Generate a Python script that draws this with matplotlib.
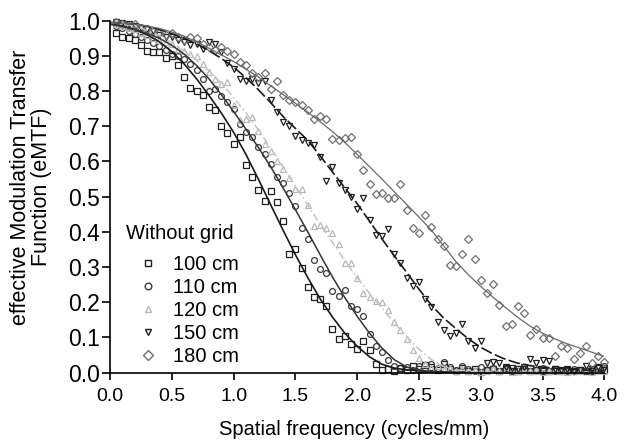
import matplotlib
matplotlib.use("Agg")
import matplotlib.pyplot as plt
from matplotlib.lines import Line2D
from matplotlib.ticker import FormatStrFormatter

plt.rcParams['font.family'] = ['Liberation Sans', 'DejaVu Sans']

# measurement grid (cycles/mm)
freq = [0.05, 0.10, 0.15, 0.20, 0.25, 0.30, 0.35, 0.40, 0.45, 0.50,
        0.55, 0.60, 0.65, 0.70, 0.75, 0.80, 0.85, 0.90, 0.95, 1.00,
        1.05, 1.10, 1.15, 1.20, 1.25, 1.30, 1.35, 1.40, 1.45, 1.50,
        1.55, 1.60, 1.65, 1.70, 1.75, 1.80, 1.85, 1.90, 1.95, 2.00,
        2.05, 2.10, 2.15, 2.20, 2.25, 2.30, 2.35, 2.40, 2.45, 2.50,
        2.55, 2.60, 2.65, 2.70, 2.75, 2.80, 2.85, 2.90, 2.95, 3.00,
        3.05, 3.10, 3.15, 3.20, 3.25, 3.30, 3.35, 3.40, 3.45, 3.50,
        3.55, 3.60, 3.65, 3.70, 3.75, 3.80, 3.85, 3.90, 3.95, 4.00]

# measured eMTF points
mtf_100 = [0.965, 0.955, 0.950, 0.945, 0.930, 0.915, 0.912, 0.910, 0.893, 0.900,
           0.874, 0.840, 0.810, 0.800, 0.790, 0.756, 0.747, 0.700, 0.680, 0.650,
           0.670, 0.590, 0.555, 0.520, 0.488, 0.516, 0.485, 0.430, 0.337, 0.350,
           0.297, 0.243, 0.216, 0.210, 0.190, 0.124, 0.095, 0.105, 0.082, 0.067,
           0.090, 0.065, 0.025, 0.008, 0.010, 0.006, 0.012, 0.008, 0.020, 0.010,
           0.022, 0.015, 0.008, 0.025, 0.010, 0.004, 0.012, 0.006, 0.010, 0.003,
           0.008, 0.010, 0.005, 0.012, 0.006, 0.004, 0.010, 0.006, 0.008, 0.004,
           0.006, 0.010, 0.005, 0.007, 0.004, 0.009, 0.006, 0.005, 0.012, 0.008]
mtf_110 = [0.985, 0.978, 0.970, 0.962, 0.955, 0.945, 0.938, 0.928, 0.918, 0.905,
           0.900, 0.890, 0.877, 0.860, 0.835, 0.800, 0.805, 0.787, 0.770, 0.750,
           0.707, 0.684, 0.670, 0.640, 0.620, 0.594, 0.556, 0.540, 0.510, 0.473,
           0.410, 0.380, 0.320, 0.294, 0.282, 0.233, 0.218, 0.235, 0.190, 0.180,
           0.160, 0.109, 0.077, 0.058, 0.037, 0.020, 0.012, 0.015, 0.008, 0.018,
           0.010, 0.025, 0.012, 0.030, 0.015, 0.008, 0.020, 0.010, 0.006, 0.015,
           0.008, 0.012, 0.005, 0.010, 0.006, 0.004, 0.009, 0.005, 0.007, 0.012,
           0.006, 0.004, 0.008, 0.005, 0.010, 0.006, 0.004, 0.008, 0.015, 0.020]
mtf_120 = [0.990, 0.985, 0.980, 0.975, 0.965, 0.960, 0.950, 0.945, 0.940, 0.933,
           0.920, 0.915, 0.905, 0.899, 0.877, 0.854, 0.835, 0.820, 0.825, 0.760,
           0.717, 0.720, 0.726, 0.688, 0.650, 0.630, 0.600, 0.580, 0.554, 0.523,
           0.523, 0.476, 0.416, 0.420, 0.410, 0.396, 0.365, 0.313, 0.313, 0.270,
           0.227, 0.214, 0.204, 0.200, 0.178, 0.143, 0.120, 0.095, 0.065, 0.042,
           0.025, 0.012, 0.020, 0.008, 0.012, 0.005, 0.010, 0.004, 0.008, 0.003,
           0.006, 0.010, 0.004, 0.007, 0.003, 0.005, 0.008, 0.004, 0.006, 0.003,
           0.005, 0.007, 0.004, 0.003, 0.006, 0.004, 0.008, 0.003, 0.005, 0.004]
mtf_150 = [0.995, 0.993, 0.990, 0.985, 0.980, 0.975, 0.970, 0.960, 0.953, 0.955,
           0.945, 0.940, 0.930, 0.935, 0.920, 0.940, 0.934, 0.910, 0.880, 0.863,
           0.835, 0.830, 0.833, 0.822, 0.830, 0.775, 0.740, 0.712, 0.700, 0.671,
           0.660, 0.652, 0.646, 0.613, 0.545, 0.585, 0.540, 0.518, 0.500, 0.466,
           0.497, 0.435, 0.391, 0.388, 0.407, 0.337, 0.313, 0.270, 0.246, 0.259,
           0.209, 0.186, 0.145, 0.120, 0.105, 0.114, 0.138, 0.089, 0.070, 0.089,
           0.027, 0.030, 0.027, 0.015, 0.012, 0.010, 0.015, 0.039, 0.027, 0.037,
           0.032, 0.010, 0.008, 0.010, 0.005, 0.008, 0.018, 0.010, 0.015, 0.012]
mtf_180 = [0.995, 0.990, 0.985, 0.990, 0.980, 0.975, 0.970, 0.965, 0.960, 0.965,
           0.955, 0.945, 0.955, 0.951, 0.935, 0.925, 0.917, 0.926, 0.915, 0.905,
           0.882, 0.875, 0.850, 0.840, 0.850, 0.806, 0.830, 0.790, 0.775, 0.770,
           0.760, 0.745, 0.720, 0.730, 0.720, 0.665, 0.660, 0.667, 0.670, 0.620,
           0.575, 0.535, 0.507, 0.510, 0.495, 0.495, 0.537, 0.463, 0.410, 0.397,
           0.448, 0.415, 0.380, 0.360, 0.306, 0.303, 0.337, 0.381, 0.322, 0.263,
           0.226, 0.252, 0.193, 0.133, 0.139, 0.190, 0.169, 0.108, 0.124, 0.098,
           0.098, 0.048, 0.076, 0.070, 0.039, 0.056, 0.076, 0.027, 0.048, 0.030]

# fitted curves
fit_freq = [0.0, 0.1, 0.2, 0.3, 0.4, 0.5, 0.6, 0.7, 0.8, 0.9,
            1.0, 1.1, 1.2, 1.3, 1.4, 1.5, 1.6, 1.7, 1.8, 1.9,
            2.0, 2.1, 2.2, 2.3, 2.4, 2.5, 2.6, 2.7, 2.8, 2.9,
            3.0, 3.1, 3.2, 3.3, 3.4, 3.5, 3.6, 3.7, 3.8, 3.9, 4.0]
fit_100 = [0.990, 0.985, 0.975, 0.960, 0.940, 0.912, 0.877, 0.835, 0.788, 0.738,
           0.683, 0.620, 0.550, 0.477, 0.405, 0.335, 0.270, 0.210, 0.158, 0.112,
           0.075, 0.045, 0.024, 0.013, 0.008, 0.005, 0.003, 0.002, 0.001, 0.001,
           0.0, 0.0, 0.0, 0.0, 0.0, 0.0, 0.0, 0.0, 0.0, 0.0, 0.0]
fit_110 = [0.990, 0.984, 0.975, 0.964, 0.950, 0.930, 0.905, 0.873, 0.835, 0.790,
           0.742, 0.692, 0.640, 0.585, 0.525, 0.463, 0.400, 0.335, 0.272, 0.213,
           0.160, 0.112, 0.070, 0.037, 0.016, 0.007, 0.003, 0.001, 0.0, 0.0,
           0.0, 0.0, 0.0, 0.0, 0.0, 0.0, 0.0, 0.0, 0.0, 0.0, 0.0]
fit_120 = [0.995, 0.990, 0.985, 0.972, 0.958, 0.938, 0.915, 0.888, 0.858, 0.822,
           0.782, 0.738, 0.690, 0.638, 0.585, 0.530, 0.476, 0.422, 0.370, 0.318,
           0.270, 0.225, 0.183, 0.142, 0.103, 0.067, 0.037, 0.018, 0.008, 0.004,
           0.002, 0.001, 0.0, 0.0, 0.0, 0.0, 0.0, 0.0, 0.0, 0.0, 0.0]
fit_150 = [0.995, 0.993, 0.990, 0.984, 0.975, 0.963, 0.950, 0.934, 0.915, 0.893,
           0.868, 0.838, 0.804, 0.767, 0.728, 0.694, 0.660, 0.616, 0.570, 0.525,
           0.480, 0.430, 0.380, 0.332, 0.285, 0.237, 0.192, 0.155, 0.125, 0.096,
           0.072, 0.053, 0.038, 0.027, 0.020, 0.016, 0.013, 0.010, 0.008, 0.006, 0.005]
fit_180 = [0.995, 0.993, 0.990, 0.985, 0.978, 0.968, 0.956, 0.940, 0.922, 0.903,
           0.884, 0.862, 0.840, 0.815, 0.790, 0.765, 0.740, 0.713, 0.685, 0.654,
           0.620, 0.585, 0.550, 0.514, 0.478, 0.442, 0.405, 0.360, 0.315, 0.278,
           0.245, 0.214, 0.185, 0.157, 0.132, 0.112, 0.096, 0.082, 0.070, 0.058, 0.046]

labels = ['100 cm', '110 cm', '120 cm', '150 cm', '180 cm']
markers = ['s', 'o', '^', 'v', 'D']
mark_colors = ['#1e1e1e', '#3a3a3a', '#b8b8b8', '#1e1e1e', '#707070']
line_colors = ['#1a1a1a', '#333333', '#c4c4c4', '#1a1a1a', '#6a6a6a']
line_styles = ['-', '-', (0, (5, 2, 1, 2)), (0, (7, 2)), '-']
line_widths = [1.2, 1.1, 1.1, 1.2, 0.9]
marker_sizes = [3.8, 4.2, 4.6, 4.6, 4.2]

points = [mtf_100, mtf_110, mtf_120, mtf_150, mtf_180]
fits = [fit_100, fit_110, fit_120, fit_150, fit_180]

fig = plt.figure(figsize=(6.24, 4.42), dpi=100)
ax = fig.add_axes([0.1763, 0.1568, 0.7923, 0.7964])

for i in range(5):
    ax.plot(freq, points[i], linestyle='none', marker=markers[i],
            markersize=marker_sizes[i], markerfacecolor='none',
            markeredgecolor=mark_colors[i], markeredgewidth=0.9, clip_on=False)
for i in range(5):
    ax.plot(fit_freq, fits[i], color=line_colors[i], linestyle=line_styles[i],
            linewidth=line_widths[i])

ax.set_xlim(0, 4.0)
ax.set_ylim(0, 1.0)
ax.set_xticks([0.0, 0.5, 1.0, 1.5, 2.0, 2.5, 3.0, 3.5, 4.0])
ax.set_yticks([0.0, 0.1, 0.2, 0.3, 0.4, 0.5, 0.6, 0.7, 0.8, 0.9, 1.0])
ax.xaxis.set_major_formatter(FormatStrFormatter('%.1f'))
ax.yaxis.set_major_formatter(FormatStrFormatter('%.1f'))
ax.tick_params(axis='x', direction='out', length=5, width=1.2, labelsize=14, pad=6)
ax.tick_params(axis='y', direction='out', length=5.8, width=1.2, labelsize=16.5, pad=1.5)
for s in ['top', 'right']:
    ax.spines[s].set_visible(False)
for s in ['left', 'bottom']:
    ax.spines[s].set_linewidth(1.2)

fig.text(0.567, 0.0152, 'Spatial frequency (cycles/mm)', fontsize=14.5,
         ha='center', va='baseline')
fig.text(0.0497, 0.577, 'effective Modulation Transfer\nFunction (eMTF)',
         fontsize=15.5, rotation=90, ha='center', va='center',
         multialignment='center', linespacing=0.95)

# legend
ax.text(0.0324, 0.380, 'Without grid', fontsize=14.5, transform=ax.transAxes,
        ha='left', va='baseline')
handles = [Line2D([], [], linestyle='none', marker=markers[i], markersize=4.8,
                  markerfacecolor='none', markeredgecolor=mark_colors[i],
                  markeredgewidth=1.0) for i in range(5)]
ax.legend(handles, labels, loc='upper left', bbox_to_anchor=(0.057, 0.335),
          frameon=False, fontsize=14.5, handlelength=1.0, handletextpad=0.72,
          labelspacing=0.2, borderpad=0, borderaxespad=0)

fig.savefig('out.png', dpi=100)
